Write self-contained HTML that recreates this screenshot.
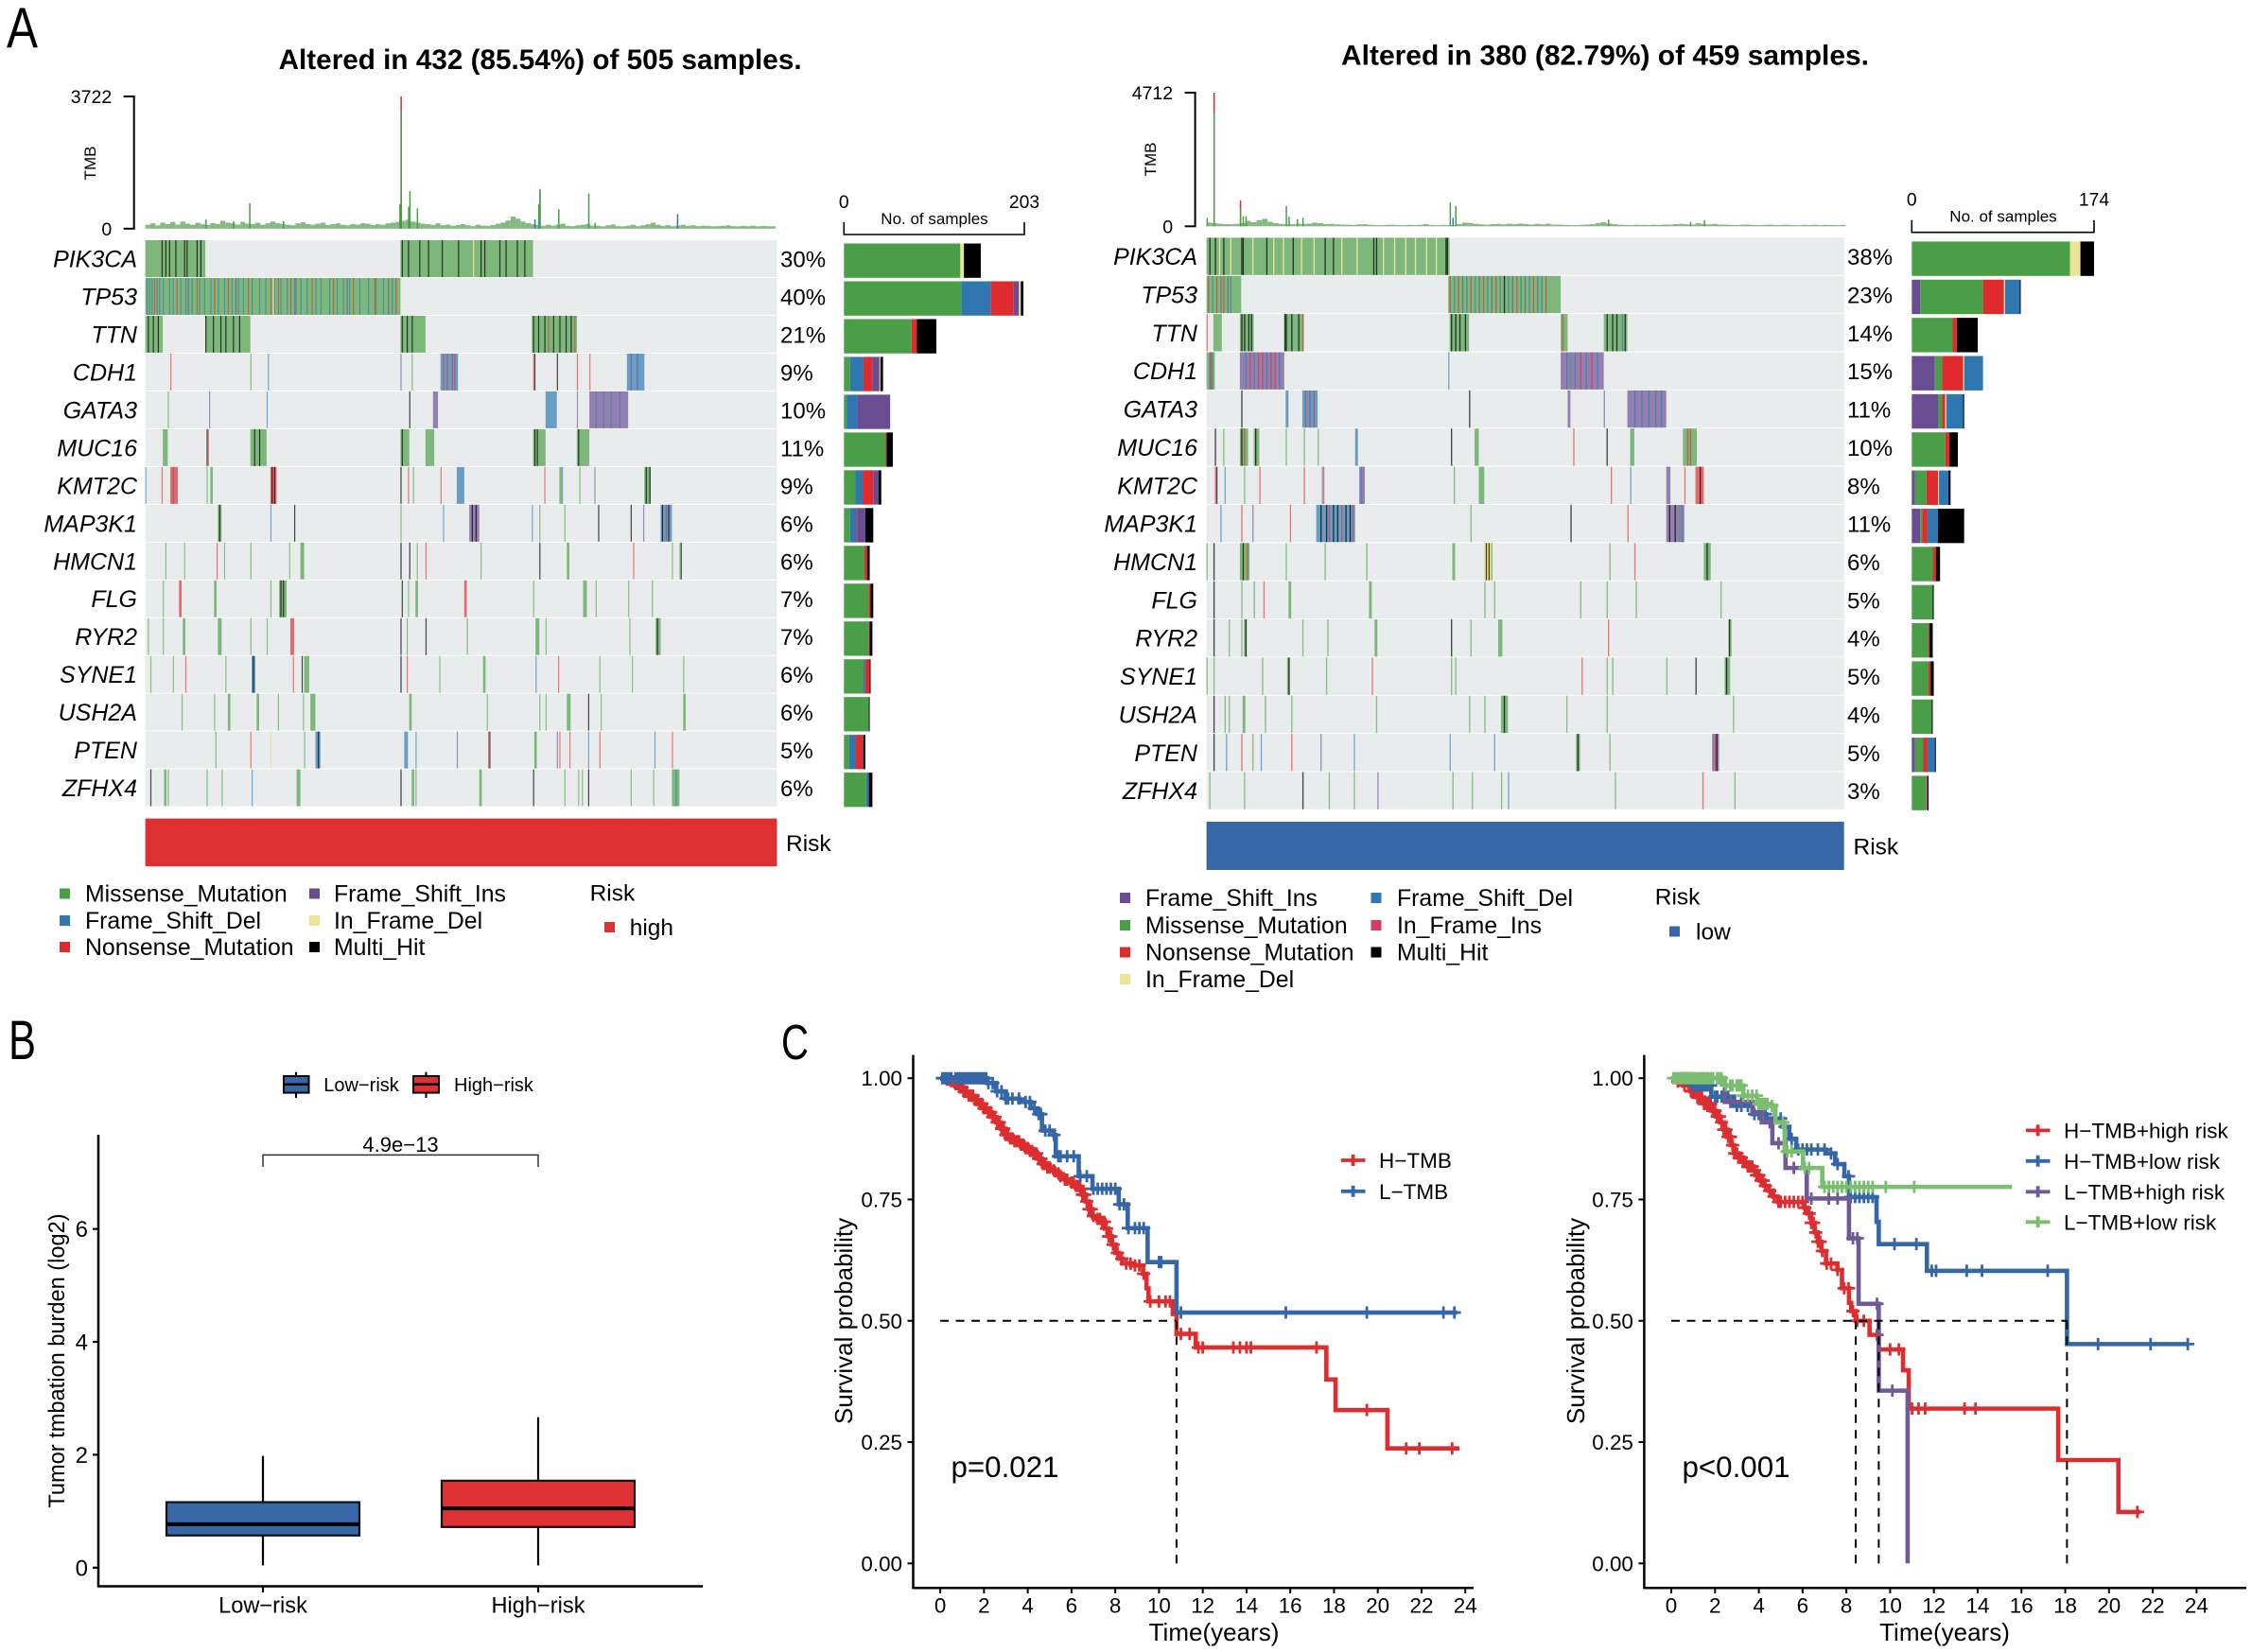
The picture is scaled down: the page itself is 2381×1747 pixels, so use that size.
<!DOCTYPE html>
<html lang="en">
<head>
<meta charset="utf-8">
<title>Oncoplots, TMB boxplot and survival curves</title>
<style>
html,body{margin:0;padding:0;background:#fff}
svg{display:block}
text{font-family:"Liberation Sans",sans-serif;fill:#000}
</style>
</head>
<body>
<svg id="figure" xmlns="http://www.w3.org/2000/svg" width="2381" height="1747" viewBox="0 0 2381 1747">
<rect x="0" y="0" width="2381" height="1747" fill="#fff"/>
<text x="7" y="50" font-size="60" textLength="33" lengthAdjust="spacingAndGlyphs">A</text>
<text x="9" y="1120" font-size="58" textLength="29" lengthAdjust="spacingAndGlyphs">B</text>
<text x="826" y="1120" font-size="52" textLength="29" lengthAdjust="spacingAndGlyphs">C</text>

<g>
<text x="294.6" y="73" font-size="29.5" font-weight="bold" textLength="553" lengthAdjust="spacingAndGlyphs">Altered in 432 (85.54%) of 505 samples.</text>
<text transform="translate(101,172.5) rotate(-90)" text-anchor="middle" font-size="17">TMB</text>
<text x="988" y="237" text-anchor="middle" font-size="17">No. of samples</text>
<text x="831" y="900" font-size="24.5">Risk</text>
<g>
<rect x="63" y="939.5" width="11" height="11" fill="#4a9e47"/>
<text x="90" y="953.5" font-size="24.8">Missense_Mutation</text>
<rect x="63" y="968" width="11" height="11" fill="#2e77b0"/>
<text x="90" y="982" font-size="24.8">Frame_Shift_Del</text>
<rect x="63" y="996" width="11" height="11" fill="#e02b2e"/>
<text x="90" y="1010" font-size="24.8">Nonsense_Mutation</text>
<rect x="327" y="939.5" width="11" height="11" fill="#6a4c93"/>
<text x="353" y="953.5" font-size="24.8">Frame_Shift_Ins</text>
<rect x="327" y="968" width="11" height="11" fill="#ebe494"/>
<text x="353" y="982" font-size="24.8">In_Frame_Del</text>
<rect x="327" y="996" width="11" height="11" fill="#000"/>
<text x="353" y="1010" font-size="24.8">Multi_Hit</text>
<text x="623.6" y="952.5" font-size="24.5">Risk</text>
<rect x="639" y="975" width="11" height="11" fill="#de3032"/>
<text x="665.7" y="989" font-size="24.5">high</text>
</g>
</g>

<g>
<text x="1418" y="68.6" font-size="29.5" font-weight="bold" textLength="558" lengthAdjust="spacingAndGlyphs">Altered in 380 (82.79%) of 459 samples.</text>
<text transform="translate(1222,168.5) rotate(-90)" text-anchor="middle" font-size="17">TMB</text>
<text x="2118" y="234.5" text-anchor="middle" font-size="17">No. of samples</text>
<text x="1959.5" y="903.5" font-size="24.5">Risk</text>
<g>
<rect x="1184" y="944" width="11" height="11" fill="#6a4c93"/>
<text x="1211" y="958" font-size="24.8">Frame_Shift_Ins</text>
<rect x="1184" y="973" width="11" height="11" fill="#4a9e47"/>
<text x="1211" y="987" font-size="24.8">Missense_Mutation</text>
<rect x="1184" y="1001.5" width="11" height="11" fill="#e02b2e"/>
<text x="1211" y="1015.5" font-size="24.8">Nonsense_Mutation</text>
<rect x="1184" y="1030" width="11" height="11" fill="#ebe494"/>
<text x="1211" y="1044" font-size="24.8">In_Frame_Del</text>
<rect x="1449.5" y="944" width="11" height="11" fill="#2e77b0"/>
<text x="1477" y="958" font-size="24.8">Frame_Shift_Del</text>
<rect x="1449.5" y="973" width="11" height="11" fill="#d73e5e"/>
<text x="1477" y="987" font-size="24.8">In_Frame_Ins</text>
<rect x="1449.5" y="1001.5" width="11" height="11" fill="#000"/>
<text x="1477" y="1015.5" font-size="24.8">Multi_Hit</text>
<text x="1749.8" y="956.5" font-size="24.5">Risk</text>
<rect x="1765" y="979.5" width="11" height="11" fill="#3667a6"/>
<text x="1793" y="993.5" font-size="24.5">low</text>
</g>
</g>

<g id="boxplot">
<text transform="translate(68,1439) rotate(-90)" text-anchor="middle" font-size="23.6">Tumor tmbation burden (log2)</text>
<text x="423.5" y="1218" text-anchor="middle" font-size="22">4.9e−13</text>
<g>
<line x1="313" y1="1133.7" x2="313" y2="1161" stroke="#000" stroke-width="2"/>
<rect x="300" y="1138" width="26.5" height="17.6" fill="#3667a6" stroke="#000" stroke-width="2"/>
<line x1="300" y1="1146.8" x2="326.5" y2="1146.8" stroke="#000" stroke-width="2.5"/>
<text x="342.3" y="1154" font-size="20">Low−risk</text>
<line x1="450.5" y1="1133.7" x2="450.5" y2="1161" stroke="#000" stroke-width="2"/>
<rect x="437" y="1138" width="27" height="17.6" fill="#de3032" stroke="#000" stroke-width="2"/>
<line x1="437" y1="1146.8" x2="464" y2="1146.8" stroke="#000" stroke-width="2.5"/>
<text x="480" y="1154" font-size="20">High−risk</text>
</g>
</g>

<g id="km-left">
<text transform="translate(901,1397) rotate(-90)" text-anchor="middle" font-size="26">Survival probability</text>
<text x="1283.5" y="1735" text-anchor="middle" font-size="26">Time(years)</text>
<text x="1005.5" y="1561.8" font-size="31.3">p=0.021</text>
</g>

<g id="km-right">
<text transform="translate(1675,1397) rotate(-90)" text-anchor="middle" font-size="26">Survival probability</text>
<text x="2056" y="1735" text-anchor="middle" font-size="26">Time(years)</text>
<text x="1778.5" y="1561.8" font-size="31.3">p&lt;0.001</text>
</g>
</svg>

<script>
/* ---------- shared colours by mutation type ---------- */
const typeColors = {M:'#4a9e47',D:'#2e77b0',N:'#e02b2e',I:'#6a4c93',F:'#ebe494',R:'#d73e5e',H:'#000000'};

/* ---------- oncoplot A: high risk ---------- */
const genesA = ['PIK3CA','TP53','TTN','CDH1','GATA3','MUC16','KMT2C','MAP3K1','HMCN1','FLG','RYR2','SYNE1','USH2A','PTEN','ZFHX4'];
const pctA = ['30%','40%','21%','9%','10%','11%','9%','6%','6%','7%','7%','6%','6%','5%','6%'];
const sampleCountA = 505;
const barMaxA = 203;
const barTypesA = ['M','D','N','I','F','H'];
const barCountsA = [
[131,0,0,0,4,19],[132,33,26,6,2,3],[76,0,6,0,0,22],[7,15,10,8,1,3],[3,12,0,37,0,0],
[47,0,1,0,0,7],[13,8,12,6,0,3],[7,7,1,9,0,9],[23,0,3,0,0,3],[28,0,2,0,0,3],
[28,0,1,0,0,3],[22,2,5,0,0,1],[28,0,0,0,0,1],[6,7,8,1,0,2],[25,3,0,0,0,4]];
const mutRowsA = [
[[0,47,'M'],[13,'H'],[16,'H'],[19,'H'],[24,'H'],[31,'H'],[33,'H'],[41,'H'],[44,'H'],[204,309,'M'],[205,'H'],[210,'H'],[219,'H'],[226,'H'],[237,'H'],[250,'H'],[262,'F'],[268,'H'],[271,'H'],[283,'H'],[288,'H'],[297,'H'],[303,'H']],
[[0,203,'M'],[1,'D'],[3,'D'],[5,'D'],[11,'D'],[14,'D'],[19,'D'],[22,'D'],[28,'D'],[32,'D'],[37,'D'],[43,'D'],[47,'D'],[52,'D'],[58,'D'],[63,'D'],[69,'D'],[74,'D'],[78,'D'],[85,'D'],[91,'D'],[96,'D'],[103,'D'],[108,'D'],[113,'D'],[119,'D'],[124,'D'],[129,'D'],[136,'D'],[140,'D'],[147,'D'],[153,'D'],[158,'D'],[163,'D'],[171,'D'],[178,'D'],[184,'D'],[190,'D'],[197,'D'],[7,'N'],[25,'N'],[41,'N'],[55,'N'],[66,'N'],[82,'N'],[100,'N'],[102,'F'],[106,'N'],[116,'N'],[133,'N'],[150,'N'],[166,'N'],[183,'N'],[200,'N'],[9,'I'],[34,'I'],[72,'I'],[120,'I'],[161,'I'],[194,'I']],
[[0,13,'M'],[2,'H'],[6,'H'],[10,'H'],[48,83,'M'],[48,'H'],[54,'H'],[60,'H'],[64,'H'],[70,'H'],[75,'H'],[204,223,'M'],[205,'H'],[209,'H'],[213,'H'],[309,344,'M'],[310,'H'],[314,'H'],[319,'H'],[322,'N'],[326,'H'],[331,'H'],[336,'H'],[340,'H'],[343,'N']],
[[20,'N'],[84,'M'],[98,'D'],[204,'I'],[213,'M'],[236,249,'D'],[238,'N'],[241,'N'],[245,'N'],[247,'N'],[310,'N'],[311,'H'],[329,'H'],[345,'N'],[355,'N'],[385,398,'D'],[388,'I'],[393,'I']],
[[18,'M'],[51,'I'],[97,'D'],[211,'H'],[230,233,'I'],[320,328,'D'],[345,'I'],[355,385,'I'],[360,'D'],[366,'D'],[372,'D'],[379,'D']],
[[14,17,'M'],[49,'H'],[50,'N'],[84,96,'M'],[87,'H'],[91,'H'],[204,210,'M'],[205,'H'],[224,230,'M'],[310,319,'M'],[311,'H'],[313,'H'],[345,354,'M'],[346,'H']],
[[0,'D'],[13,'N'],[20,25,'N'],[22,'I'],[49,'M'],[52,53,'M'],[100,104,'N'],[101,'H'],[103,'H'],[204,'H'],[210,'N'],[214,'M'],[236,'N'],[249,254,'D'],[319,'N'],[331,332,'M'],[333,'D'],[347,'M'],[359,'I'],[399,403,'M'],[400,'H'],[403,'H']],
[[58,60,'M'],[59,'H'],[100,'D'],[119,'H'],[204,'M'],[238,'D'],[259,266,'I'],[261,'H'],[264,'H'],[309,'D'],[315,'M'],[335,'M'],[362,'H'],[388,'H'],[398,'I'],[412,420,'D'],[413,'H'],[416,'N'],[418,'H']],
[[16,'M'],[31,'M'],[57,'N'],[63,'M'],[84,'M'],[115,'M'],[124,126,'M'],[204,'H'],[211,'H'],[217,'M'],[224,'N'],[268,'M'],[315,'H'],[337,338,'M'],[390,'N'],[421,'M'],[428,'H'],[427,'M']],
[[14,'M'],[27,28,'N'],[55,56,'M'],[100,'M'],[107,112,'M'],[108,'H'],[110,'H'],[205,'H'],[210,'M'],[216,217,'M'],[255,256,'N'],[310,'M'],[350,352,'M'],[360,'M'],[386,'M'],[405,'M']],
[[2,'M'],[14,'M'],[30,31,'M'],[58,60,'M'],[84,'M'],[97,'M'],[116,118,'N'],[204,'H'],[209,'M'],[224,'H'],[257,'M'],[312,314,'M'],[320,'M'],[387,'M'],[408,411,'M'],[409,'H']],
[[4,'M'],[22,'M'],[32,'N'],[64,'M'],[85,87,'D'],[86,'H'],[118,'N'],[125,'H'],[127,130,'M'],[204,'H'],[209,'N'],[235,'M'],[270,271,'M'],[312,'D'],[330,'N'],[363,'M'],[389,'M'],[430,'M']],
[[29,'M'],[55,'M'],[66,67,'M'],[89,90,'M'],[106,'M'],[126,'M'],[132,135,'M'],[211,212,'M'],[273,'M'],[315,'M'],[320,'M'],[337,339,'M'],[354,'H'],[364,'M'],[430,431,'M']],
[[56,'M'],[84,'N'],[100,'F'],[127,'M'],[136,139,'D'],[138,'H'],[207,209,'D'],[216,'D'],[249,'I'],[274,'N'],[275,'H'],[311,312,'M'],[329,'I'],[331,'N'],[339,'N'],[354,'D'],[363,'N'],[407,'D'],[421,'N']],
[[4,'H'],[15,16,'M'],[18,'M'],[49,'M'],[61,'M'],[85,'D'],[121,123,'M'],[204,'H'],[213,214,'M'],[216,'M'],[267,268,'M'],[310,'H'],[335,'M'],[346,'M'],[349,'M'],[354,'H'],[388,'M'],[406,'M'],[421,426,'M'],[424,'D']]];
const tmbBaseA = [110,150,90,170,130,190,115,200,140,110,165,125,100,155,130,220,170,150,115,190,140,130,165,110,150,200,155,130,110,95,150,180,130,110,140,170,100,125,150,110,95,130,115,155,140,100,125,110,150,170,190,220,250,200,170,140,125,110,150,95,115,80,100,130,95,70,110,85,80,100,140,170,230,340,280,200,155,125,100,80,110,85,115,140,80,70,95,110,130,80,85,65,95,115,70,65,85,110,70,95,125,170,110,80,100,70,85,110,80,95,70,85,80,65,70,80,95,70,65,80,70,85,65,80,70,65];
const tmbSamplesA = [48,70,83,110,203,204,204,210,211,217,311,314,315,315,330,354,359,425];
const tmbValuesA = [258,210,716,210,687,3722,3290,620,1059,572,258,687,1117,1060,544,992,162,410];
const tmbTypesA = ['M','M','M','M','M','N','M','M','M','M','D','M','M','M','M','M','M','D'];
const tmbTicksA = [['0',0],['3722',3722]];

/* ---------- oncoplot B: low risk ---------- */
const genesB = ['PIK3CA','TP53','TTN','CDH1','GATA3','MUC16','KMT2C','MAP3K1','HMCN1','FLG','RYR2','SYNE1','USH2A','PTEN','ZFHX4'];
const pctB = ['38%','23%','14%','15%','11%','10%','8%','11%','6%','5%','4%','5%','4%','5%','3%'];
const sampleCountB = 459;
const barMaxB = 174;
const barTypesB = ['I','M','N','F','D','R','H'];
const barCountsB = [
[0,151,0,10,0,0,13],[8,60,20,1,14,0,1],[0,39,4,0,0,0,20],[22,7,20,1,18,0,0],[25,4,3,1,16,0,1],
[0,32,4,0,0,0,8],[3,11,11,1,9,0,2],[8,2,5,0,10,0,25],[0,20,3,0,0,0,4],[0,20,0,0,0,0,1],
[0,16,1,0,0,0,3],[0,16,2,0,0,0,3],[0,19,0,0,0,0,1],[3,8,4,0,7,0,1],[0,14,1,0,0,0,1]];
const mutRowsB = [
[[0,174,'M'],[2,'H'],[6,'H'],[12,'H'],[25,'H'],[26,'H'],[43,'H'],[62,'H'],[85,'H'],[91,'H'],[120,'H'],[122,'H'],[172,'H'],[173,'H'],[9,'F'],[17,'F'],[33,'F'],[48,'F'],[55,'F'],[68,'F'],[77,'F'],[97,'F'],[108,'F'],[127,'F'],[135,'F'],[143,'F'],[150,'F'],[158,'F'],[165,'F']],
[[0,24,'M'],[1,'N'],[4,'D'],[7,'N'],[10,'I'],[12,'N'],[15,'I'],[17,'D'],[174,254,'M'],[175,'N'],[178,'D'],[181,'N'],[184,'I'],[187,'D'],[190,'N'],[193,'D'],[196,'I'],[199,'N'],[202,'D'],[205,'I'],[208,'N'],[211,'D'],[214,'H'],[217,'D'],[220,'I'],[223,'N'],[226,'D'],[229,'I'],[232,'D'],[235,'N'],[238,'I'],[241,'D'],[244,'N']],
[[0,'N'],[5,10,'M'],[24,33,'M'],[25,'H'],[27,'H'],[30,'H'],[32,'H'],[56,69,'M'],[56,'H'],[57,'H'],[61,'H'],[66,'H'],[69,'N'],[175,188,'M'],[176,'H'],[179,'H'],[182,'H'],[186,'H'],[255,259,'M'],[256,'N'],[286,302,'M'],[288,'H'],[292,'H'],[295,'H'],[299,'D'],[301,'H']],
[[0,5,'M'],[2,'I'],[3,'N'],[4,'D'],[24,55,'I'],[28,'D'],[31,'N'],[34,'D'],[37,'N'],[40,'N'],[43,'D'],[46,'N'],[49,'N'],[52,'D'],[174,'D'],[255,285,'I'],[259,'D'],[262,'M'],[265,'D'],[269,'N'],[273,'D'],[277,'N'],[281,'D']],
[[25,'H'],[57,58,'D'],[69,79,'D'],[71,'N'],[74,'I'],[77,'N'],[189,'H'],[260,261,'I'],[286,'I'],[303,330,'I'],[308,'D'],[313,'D'],[318,'D'],[323,'D'],[327,'D']],
[[6,'H'],[12,'M'],[24,29,'M'],[25,'H'],[27,'N'],[34,37,'M'],[35,'H'],[57,'M'],[70,'M'],[80,'M'],[107,108,'D'],[176,'H'],[193,195,'M'],[264,'N'],[288,'H'],[305,307,'M'],[343,352,'M'],[346,'N'],[348,'N']],
[[6,'N'],[7,'H'],[13,'D'],[27,'M'],[38,'N'],[70,'N'],[83,'D'],[84,'N'],[110,113,'I'],[111,'D'],[178,'M'],[196,199,'M'],[291,'N'],[305,'D'],[331,333,'I'],[344,'N'],[352,357,'N'],[355,'H']],
[[10,'D'],[25,'N'],[33,'I'],[60,'N'],[79,106,'D'],[82,'H'],[86,'H'],[88,'N'],[91,'H'],[94,'H'],[97,'N'],[100,'H'],[103,'H'],[105,'N'],[190,'M'],[262,'H'],[303,'N'],[331,343,'I'],[333,'H'],[337,'H'],[340,'M'],[342,'D']],
[[0,'M'],[5,'H'],[24,30,'M'],[26,'H'],[29,'N'],[57,'M'],[85,'M'],[115,'M'],[177,178,'M'],[200,205,'F'],[201,'H'],[203,'H'],[205,'M'],[290,'M'],[308,'N'],[358,362,'M'],[360,'H']],
[[5,'H'],[25,'M'],[34,'M'],[41,'N'],[59,60,'M'],[117,118,'M'],[200,'M'],[207,'M'],[269,'M'],[288,'M'],[309,'M'],[370,'M']],
[[5,'H'],[16,'M'],[25,'M'],[27,28,'M'],[28,'H'],[69,'M'],[87,'M'],[121,122,'M'],[176,'H'],[190,'M'],[210,212,'M'],[289,'N'],[376,377,'M'],[376,'H']],
[[0,'M'],[5,'M'],[40,'M'],[58,59,'M'],[59,'H'],[86,'M'],[119,'N'],[176,'M'],[179,'M'],[270,'N'],[288,'M'],[292,'M'],[331,'M'],[352,'H'],[373,376,'M'],[374,'H']],
[[5,'H'],[13,'M'],[16,'M'],[26,27,'M'],[42,'M'],[61,'M'],[122,'M'],[189,'M'],[200,'M'],[212,216,'M'],[214,'H'],[259,'M'],[288,'M'],[379,'M']],
[[5,'H'],[14,'D'],[25,'N'],[33,'M'],[39,'D'],[61,'N'],[82,'I'],[106,'D'],[175,'D'],[207,'D'],[266,268,'M'],[267,'H'],[290,'M'],[364,368,'I'],[366,'N'],[367,'H']],
[[2,'M'],[27,'M'],[69,'H'],[88,'M'],[106,'M'],[123,'I'],[177,'M'],[191,'M'],[212,'M'],[217,'D'],[294,'M'],[357,'N'],[380,'M']]];
const tmbBaseB = [130,110,90,75,70,85,115,190,145,215,265,155,110,85,70,75,90,80,95,130,110,75,85,70,60,55,50,70,75,55,45,40,50,55,45,40,50,45,55,75,45,40,50,45,40,75,130,110,85,70,55,75,85,70,90,75,95,80,60,85,70,90,55,60,50,45,40,50,60,75,115,145,95,75,55,50,45,55,50,45,55,50,60,55,75,85,70,60,110,80,70,85,60,55,50,45,55,60,50,45,50,55,45,50,55,45,40,50,45,55,40,50,45,40,50];
const tmbSamplesB = [0,5,5,24,24,26,28,57,59,65,69,175,177,179,289,348,358];
const tmbValuesB = [298,4712,3990,918,640,358,358,716,334,250,298,835,300,716,238,150,215];
const tmbTypesB = ['M','N','M','N','M','M','M','M','M','M','M','M','D','M','M','M','M'];
const tmbTicksB = [['0',0],['4712',4712]];

/* ---------- boxplot ---------- */
const boxCategories = ['Low−risk','High−risk'];
const boxQ1 = [0.57,0.72];
const boxMedian = [0.77,1.05];
const boxQ3 = [1.16,1.54];
const boxLow = [0.04,0.04];
const boxHigh = [1.98,2.665];
const boxColors = ['#3667a6','#de3032'];
const boxYTicks = [0,2,4,6];

/* ---------- survival: time / probability pairs ---------- */
const kmXTicks = [0,2,4,6,8,10,12,14,16,18,20,22,24];
const kmYTicks = ['0.00','0.25','0.50','0.75','1.00'];

const hTmbTimes = [0,.23,.46,.67,.88,1.09,1.3,1.51,1.72,1.93,2.14,2.35,2.56,2.77,2.98,3.19,3.4,3.61,3.82,4.02,4.23,4.44,4.65,4.86,5.07,5.28,5.49,5.7,5.91,6.12,6.33,6.49,6.65,6.8,6.96,7.17,7.38,7.53,7.69,7.85,8.01,8.16,8.32,8.85,9.27,9.43,9.52,10.63,10.8,11.68,17.65,18.07,20.44,23.73];
const hTmbProbs = [1,.997,.994,.988,.981,.972,.964,.955,.947,.938,.93,.92,.909,.896,.883,.876,.87,.863,.856,.85,.845,.834,.823,.816,.81,.804,.798,.791,.785,.778,.772,.76,.746,.73,.716,.71,.704,.69,.674,.657,.64,.628,.618,.614,.597,.567,.54,.514,.473,.445,.379,.316,.237,.237];
const hTmbCensor = [.3,.4,.5,.6,.7,.8,.9,1,1.1,1.2,1.3,1.4,1.5,1.6,1.7,1.8,1.9,2,2.1,2.2,2.3,2.4,2.5,2.6,2.7,2.8,2.9,3,3.1,3.2,3.3,3.4,3.5,3.6,3.7,3.8,3.9,4,4.1,4.2,4.3,4.4,4.5,4.6,4.7,4.8,4.9,5,5.2,5.4,5.5,5.7,5.8,6,6.1,6.2,6.3,6.4,6.5,6.6,6.7,6.8,6.9,7,7.2,7.3,7.4,7.5,7.6,7.7,7.8,7.9,8.1,8.3,8.5,8.7,8.9,9.1,9.3,9.6,10,10.3,10.5,11,11.4,11.8,12,13.4,13.7,14,14.2,17.2,19.5,21.3,21.9,23.4];

const lTmbTimes = [0,2.14,2.56,2.98,3.61,4.13,4.44,4.65,5.18,5.28,6.33,6.96,8.16,8.57,9.48,10.8,23.63];
const lTmbProbs = [1,.99,.973,.958,.951,.938,.926,.892,.883,.839,.798,.772,.74,.691,.621,.517,.517];
const lTmbCensor = [.1,.2,.3,.4,.5,.7,.8,.9,1,1.1,1.2,1.3,1.4,1.5,1.6,1.7,1.8,1.9,2,2.1,2.2,2.4,2.6,2.8,3,3.1,3.3,3.6,3.9,4.1,4.3,4.5,4.6,4.8,5,5.2,5.4,5.5,5.8,6.1,6.4,6.7,7,7.2,7.4,7.6,7.8,8,8.2,8.4,8.6,8.9,9.1,9.3,10,10.1,11,15.8,19.5,23,23.5];

const hHighTimes = [0,.28,.57,.88,1.2,1.5,1.83,2.04,2.24,2.4,2.56,2.72,2.87,3.08,3.29,3.5,3.71,3.87,4.03,4.24,4.45,4.66,4.87,5.92,6.08,6.23,6.39,6.55,6.7,6.86,7.07,7.59,7.8,8.12,8.22,8.43,9.06,9.48,10.59,10.85,17.68,20.43,21.44];
const hHighProbs = [1,.993,.985,.973,.96,.947,.933,.921,.909,.894,.879,.862,.845,.836,.827,.818,.81,.8,.789,.778,.768,.756,.745,.745,.733,.721,.702,.682,.663,.644,.618,.605,.567,.537,.52,.5,.471,.441,.398,.319,.213,.106,.106];
const hHighCensor = [.3,.5,.6,.8,.9,1,1.1,1.2,1.3,1.4,1.5,1.6,1.7,1.8,1.9,2,2.1,2.2,2.3,2.4,2.5,2.6,2.7,2.8,2.9,3,3.1,3.2,3.3,3.4,3.5,3.6,3.7,3.8,3.9,4,4.1,4.2,4.3,4.5,4.7,4.9,5,5.2,5.4,5.6,5.8,6,6.1,6.3,6.4,6.5,6.6,6.7,6.8,6.9,7.1,7.3,7.6,7.9,8.1,8.3,8.5,8.8,9.4,10,10.4,11,11.3,11.6,13.4,13.9,21.3];

const hLowTimes = [0,.99,1.83,2.87,3.71,4.34,5.08,5.39,5.71,7.07,7.49,7.91,8.12,9.38,9.48,11.68,18.08,23.64];
const hLowProbs = [1,.985,.962,.943,.926,.917,.9,.875,.853,.845,.823,.798,.755,.704,.658,.603,.452,.452];
const hLowCensor = [.4,.5,.6,.7,.8,.9,1,1.1,1.2,1.3,1.4,1.5,1.6,1.7,1.8,2,2.1,2.3,2.6,3,3.2,3.5,3.8,4,4.3,4.7,5,5.2,5.5,5.8,6,6.2,6.4,6.7,7,7.3,7.6,8.1,8.2,8.4,8.6,8.8,9,9.2,10.2,11.2,11.9,12.1,13.5,14.2,17.2,19.5,21.9,23.6];

const lHighTimes = [0,2.45,3.71,4.13,4.62,5.22,6.19,8.12,8.56,9.48,10.8];
const lHighProbs = [1,.951,.93,.909,.866,.815,.752,.67,.535,.356,0];
const lHighCensor = [.5,1,1.4,1.9,2.7,3.2,4.5,4.9,5.6,6.4,7.2,7.6,8.3,8.5,9.4,10.1];

const lLowTimes = [0,2.45,3.29,3.92,4.55,4.76,5.18,6.02,6.9,15.57];
const lLowProbs = [1,.985,.964,.947,.943,.909,.849,.815,.776,.776];
const lLowCensor = [.1,.2,.3,.4,.5,.6,.7,.8,.9,1,1.1,1.2,1.3,1.4,1.5,1.6,1.7,1.8,1.9,2.1,2.2,2.3,2.5,2.7,2.8,3,3.1,3.2,3.3,3.5,3.7,3.9,4,4.1,4.2,4.3,4.4,4.6,5.1,5.3,5.5,6.1,6.3,7,7.2,7.4,7.6,7.8,8,8.2,8.4,8.6,8.8,9,9.2,9.8,11.1];

/* ---------- helpers ---------- */
const NS = 'http://www.w3.org/2000/svg';
function add(parent, tag, attrs, text) {
  const el = document.createElementNS(NS, tag);
  for (const k in attrs) el.setAttribute(k, attrs[k]);
  if (text !== undefined) el.textContent = text;
  parent.appendChild(el);
  return el;
}
const fig = document.getElementById('figure');

/* ---------- oncoplot drawing ---------- */
function drawOncoplot(cfg) {
  const g = add(fig, 'g', {});
  
  
  const xS = s => cfg.x0 + (s / cfg.samples) * (cfg.x1 - cfg.x0);
  const yRow = i => cfg.y0 + i * cfg.pitch;
  const barX = v => cfg.barX0 + (v / cfg.barMax) * (cfg.barX1 - cfg.barX0);
  const tmbY = v => cfg.tmbY0 - (v / cfg.tmbMax) * (cfg.tmbY0 - cfg.tmbY1);

  cfg.genes.forEach((gene, i) => {
    const y = yRow(i);
    const bg = add(g, 'rect', {x: cfg.x0, y: y, width: cfg.x1 - cfg.x0, height: cfg.rowH, fill: '#e9ecec'});
    
    
    cfg.rows[i].forEach(run => {
      const s = run[0];
      const e = run.length === 3 ? run[1] : run[0];
      const t = run[run.length - 1];
      const single = run.length === 2;
      const op = t === 'F' ? 1 : (single ? (t === 'H' ? 0.72 : 0.62) : 0.68);
      const w = single ? (xS(1) - xS(0)) * 0.9 : xS(e + 1) - xS(s);
      const cell = add(g, 'rect', {x: xS(s), y: y, width: w, height: cfg.rowH, fill: typeColors[t], 'fill-opacity': op});
      
      
    });
    const label = add(g, 'text', {x: cfg.labelX, y: y + cfg.rowH / 2 + 9, 'text-anchor': 'end', 'font-size': 25, 'font-style': 'italic'}, gene);
    
    
    const pct = add(g, 'text', {x: cfg.pctX, y: y + cfg.rowH / 2 + 9, 'font-size': 24}, cfg.pct[i]);
    
    
    let acc = 0;
    cfg.barTypes.forEach((t, k) => {
      const n = cfg.barCounts[i][k];
      if (!n) return;
      const seg = add(g, 'rect', {x: barX(acc), y: y + cfg.barTop, width: barX(acc + n) - barX(acc), height: cfg.barH, fill: typeColors[t]});
      
      
      acc += n;
    });
  });

  /* TMB bars */
  const bucket = 4;
  cfg.tmbBase.forEach((v, i) => {
    const b = add(g, 'rect', {x: xS(i * bucket), y: tmbY(v), width: xS(4) - xS(0), height: tmbY(0) - tmbY(v), fill: '#6fae6c', 'fill-opacity': 0.85});
    
    
  });
  cfg.tmbSamples.forEach((s, i) => {
    const v = cfg.tmbValues[i];
    const b = add(g, 'rect', {x: xS(s), y: tmbY(v), width: 1.5, height: tmbY(0) - tmbY(v), fill: typeColors[cfg.tmbTypes[i]]});
    
    
  });
  const tmbAxis = add(g, 'line', {x1: cfg.tmbAxisX, x2: cfg.tmbAxisX, y1: tmbY(cfg.tmbMax), y2: tmbY(0), stroke: '#000', 'stroke-width': 2});
  
  
  cfg.tmbTicks.forEach(t => {
    const tk = add(g, 'line', {x1: cfg.tmbAxisX - 11, x2: cfg.tmbAxisX + 1, y1: tmbY(t[1]), y2: tmbY(t[1]), stroke: '#000', 'stroke-width': 2});
    
    
    const tl = add(g, 'text', {x: cfg.tmbAxisX - 23.5, y: tmbY(t[1]) + 7, 'text-anchor': 'end', 'font-size': 19.5}, t[0]);
    
    
  });

  /* bar axis */
  const bracket = add(g, 'path', {d: 'M' + barX(0) + ' ' + (cfg.barAxisY - 13) + 'V' + cfg.barAxisY + 'H' + barX(cfg.barMax) + 'V' + (cfg.barAxisY - 13), fill: 'none', stroke: '#000', 'stroke-width': 1.6});
  
  
  [0, cfg.barMax].forEach(v => {
    const tl = add(g, 'text', {x: barX(v), y: cfg.barAxisY - 28, 'text-anchor': 'middle', 'font-size': 19.3}, String(v));
    
    
  });

  /* risk annotation */
  const risk = add(g, 'rect', {x: cfg.x0, y: cfg.riskY, width: cfg.x1 - cfg.x0, height: cfg.riskH, fill: cfg.riskColor});
  
  
}

drawOncoplot({name: 'oncoplot-high-risk-marks', genes: genesA, pct: pctA, rows: mutRowsA, samples: sampleCountA,
  x0: 153.6, x1: 821.5, y0: 254, pitch: 39.97, rowH: 39, labelX: 145, pctX: 825,
  barTypes: barTypesA, barCounts: barCountsA, barMax: barMaxA, barX0: 892.3, barX1: 1083, barTop: 3.5, barH: 36.3, barAxisY: 248,
  tmbBase: tmbBaseA, tmbSamples: tmbSamplesA, tmbValues: tmbValuesA, tmbTypes: tmbTypesA, tmbTicks: tmbTicksA,
  tmbMax: 3722, tmbY0: 241.8, tmbY1: 102, tmbAxisX: 141.7, riskY: 865.6, riskH: 50.6, riskColor: '#de3032'});

drawOncoplot({name: 'oncoplot-low-risk-marks', genes: genesB, pct: pctB, rows: mutRowsB, samples: sampleCountB,
  x0: 1275.6, x1: 1949.7, y0: 251.4, pitch: 40.36, rowH: 39.4, labelX: 1266, pctX: 1953,
  barTypes: barTypesB, barCounts: barCountsB, barMax: barMaxB, barX0: 2021.3, barX1: 2214, barTop: 4, barH: 36.4, barAxisY: 245.7,
  tmbBase: tmbBaseB, tmbSamples: tmbSamplesB, tmbValues: tmbValuesB, tmbTypes: tmbTypesB, tmbTicks: tmbTicksB,
  tmbMax: 4712, tmbY0: 239.3, tmbY1: 98, tmbAxisX: 1263.6, riskY: 869, riskH: 51, riskColor: '#3667a6'});

/* ---------- boxplot drawing ---------- */
(function () {
  const g = document.getElementById('boxplot');
  const y = v => 1657.8 - 59.7 * v;
  const centers = [278, 569];
  const halfW = 102;
  const yAxis = add(g, 'line', {x1: 104, x2: 104, y1: 1200, y2: 1678.5, stroke: '#000', 'stroke-width': 2.5});
  
  
  const xAxis = add(g, 'line', {x1: 103, x2: 743, y1: 1677.5, y2: 1677.5, stroke: '#000', 'stroke-width': 2.5});
  
  
  boxYTicks.forEach(v => {
    const t = add(g, 'line', {x1: 98, x2: 104, y1: y(v), y2: y(v), stroke: '#000', 'stroke-width': 2.2});
    
    
    const l = add(g, 'text', {x: 93, y: y(v) + 8.5, 'text-anchor': 'end', 'font-size': 24}, String(v));
    
    
  });
  boxCategories.forEach((c, i) => {
    const cx = centers[i];
    const w = add(g, 'line', {x1: cx, x2: cx, y1: y(boxHigh[i]), y2: y(boxLow[i]), stroke: '#000', 'stroke-width': 2.2});
    
    
    const b = add(g, 'rect', {x: cx - halfW, y: y(boxQ3[i]), width: halfW * 2, height: y(boxQ1[i]) - y(boxQ3[i]), fill: boxColors[i], stroke: '#111', 'stroke-width': 2.2});
    
    
    const m = add(g, 'line', {x1: cx - halfW, x2: cx + halfW, y1: y(boxMedian[i]), y2: y(boxMedian[i]), stroke: '#000', 'stroke-width': 4});
    
    
    const t = add(g, 'line', {x1: cx, x2: cx, y1: 1677.5, y2: 1684, stroke: '#000', 'stroke-width': 2.2});
    
    
    const l = add(g, 'text', {x: cx, y: 1705.5, 'text-anchor': 'middle', 'font-size': 23.6}, c);
    
    
  });
  const br = add(g, 'path', {d: 'M' + centers[0] + ' 1234V1221.4H' + centers[1] + 'V1234', fill: 'none', stroke: '#333', 'stroke-width': 1.5});
  
  
})();

/* ---------- survival plot drawing ---------- */
function drawKM(cfg) {
  const g = document.getElementById(cfg.id);
  const x = t => cfg.x0 + cfg.pxPerYear * t;
  const y = p => 1653.3 - 513.1 * p;
  const pAt = (ts, ps, t) => { let p = ps[0]; for (let i = 0; i < ts.length; i++) { if (ts[i] <= t) p = ps[i]; } return p; };

  const yAxis = add(g, 'line', {x1: cfg.axisX, x2: cfg.axisX, y1: 1115.6, y2: 1680, stroke: '#000', 'stroke-width': 2.5});
  
  
  const xAxis = add(g, 'line', {x1: cfg.axisX - 1, x2: cfg.axisEnd, y1: 1679.2, y2: 1679.2, stroke: '#000', 'stroke-width': 2.5});
  
  
  kmXTicks.forEach(v => {
    const t = add(g, 'line', {x1: x(v), x2: x(v), y1: 1679.2, y2: 1685, stroke: '#000', 'stroke-width': 2});
    
    
    const l = add(g, 'text', {x: x(v), y: 1705.5, 'text-anchor': 'middle', 'font-size': 22.4}, String(v));
    
    
  });
  kmYTicks.forEach(v => {
    const t = add(g, 'line', {x1: cfg.axisX - 6, x2: cfg.axisX, y1: y(+v), y2: y(+v), stroke: '#000', 'stroke-width': 2});
    
    
    const l = add(g, 'text', {x: cfg.axisX - 11.5, y: y(+v) + 8, 'text-anchor': 'end', 'font-size': 22.4}, v);
    
    
  });
  cfg.series.forEach(s => {
    let d = 'M' + x(s.t[0]) + ' ' + y(s.p[0]);
    for (let i = 1; i < s.t.length; i++) d += 'H' + x(s.t[i]) + 'V' + y(s.p[i]);
    const line = add(g, 'path', {d: d, fill: 'none', stroke: s.color, 'stroke-width': 4.6, 'stroke-linejoin': 'miter'});
    
    
    s.c.forEach(t => {
      if (t > s.t[s.t.length - 1]) return;
      const cy = y(pAt(s.t, s.p, t));
      const cx = x(t);
      const mark = add(g, 'path', {d: 'M' + (cx - 7) + ' ' + cy + 'H' + (cx + 7) + 'M' + cx + ' ' + (cy - 6.5) + 'V' + (cy + 6.5), stroke: s.color, 'stroke-width': 2.8, fill: 'none'});
      
      
    });
  });
  /* median reference lines */
  const hLine = add(g, 'line', {x1: x(0), x2: x(cfg.medians[cfg.medians.length - 1]), y1: y(0.5), y2: y(0.5), stroke: '#000', 'stroke-width': 2, 'stroke-dasharray': '9 7.5'});
  
  
  cfg.medians.forEach(m => {
    const v = add(g, 'line', {x1: x(m), x2: x(m), y1: y(0), y2: y(0.5), stroke: '#000', 'stroke-width': 2, 'stroke-dasharray': '9 7.5'});
    
    
  });
  /* legend */
  cfg.legend.forEach((e, i) => {
    const ly = cfg.legendY[i];
    const sw = add(g, 'path', {d: 'M' + cfg.legendX + ' ' + ly + 'h25.7M' + (cfg.legendX + 12.8) + ' ' + (ly - 6) + 'v12', stroke: e.color, 'stroke-width': 3.8, fill: 'none'});
    
    
    const tx = add(g, 'text', {x: cfg.legendTextX, y: ly + 8, 'font-size': 22.5}, e.label);
    
    
  });
}

const kmRed = '#dc2e30';
const kmBlue = '#3566a8';
const kmPurple = '#6f5a96';
const kmGreen = '#7bbe6f';

drawKM({id: 'km-left', x0: 994.1, pxPerYear: 23.13, axisX: 965.5, axisEnd: 1558, medians: [10.8],
  series: [
    {t: hTmbTimes, p: hTmbProbs, c: hTmbCensor, color: kmRed},
    {t: lTmbTimes, p: lTmbProbs, c: lTmbCensor, color: kmBlue}],
  legend: [{label: 'H−TMB', color: kmRed}, {label: 'L−TMB', color: kmBlue}],
  legendX: 1417.8, legendTextX: 1458, legendY: [1227, 1259.8]});

drawKM({id: 'km-right', x0: 1767, pxPerYear: 23.14, axisX: 1738.4, axisEnd: 2375, medians: [8.43, 9.48, 18.08],
  series: [
    {t: hHighTimes, p: hHighProbs, c: hHighCensor, color: kmRed},
    {t: hLowTimes, p: hLowProbs, c: hLowCensor, color: kmBlue},
    {t: lHighTimes, p: lHighProbs, c: lHighCensor, color: kmPurple},
    {t: lLowTimes, p: lLowProbs, c: lLowCensor, color: kmGreen}],
  legend: [{label: 'H−TMB+high risk', color: kmRed}, {label: 'H−TMB+low risk', color: kmBlue}, {label: 'L−TMB+high risk', color: kmPurple}, {label: 'L−TMB+low risk', color: kmGreen}],
  legendX: 2141.8, legendTextX: 2182, legendY: [1195.4, 1227.8, 1260.3, 1292.3]});
</script>
</body>
</html>
